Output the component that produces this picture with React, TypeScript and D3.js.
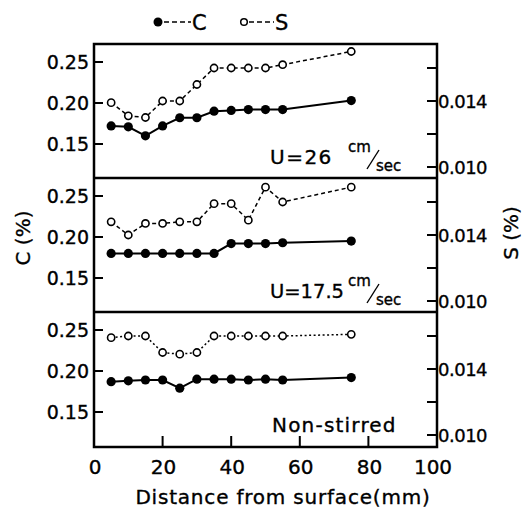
import React from "react";
import * as d3 from "d3";

const distances = [5, 10, 15, 20, 25, 30, 35, 40, 45, 50, 55, 75];
const c26 = [0.172, 0.171, 0.160, 0.172, 0.182, 0.182, 0.190, 0.191, 0.192, 0.192, 0.192, 0.203];
const s26 = [0.0139, 0.0131, 0.0130, 0.0140, 0.0140, 0.0150, 0.0160, 0.0160, 0.0160, 0.0160, 0.0162, 0.0170];
const c175 = [0.180, 0.180, 0.180, 0.180, 0.180, 0.180, 0.180, 0.192, 0.192, 0.192, 0.193, 0.195];
const s175 = [0.0148, 0.0140, 0.0147, 0.0147, 0.0148, 0.0148, 0.0159, 0.0159, 0.0149, 0.0169, 0.0160, 0.0169];
const cNon = [0.187, 0.188, 0.189, 0.189, 0.179, 0.190, 0.190, 0.190, 0.189, 0.190, 0.189, 0.192];
const sNon = [0.0159, 0.0160, 0.0160, 0.0150, 0.0149, 0.0150, 0.0160, 0.0160, 0.0160, 0.0160, 0.0160, 0.0161];

const leftTicks = [0.15, 0.2, 0.25];
const leftTickLabels = ["0.15", "0.20", "0.25"];
const rightTicks = [0.010, 0.012, 0.014, 0.016];
const rightTickLabels: Record<string, string> = { "0.01": "0.010", "0.014": "0.014" };
const xTicks = [0, 20, 40, 60, 80, 100];

type Panel = { c: number[]; s: number[]; label: string[]; dash: string };
const panels: Panel[] = [
  { c: c26, s: s26, label: ["U=26", "cm", "sec"], dash: "4,3" },
  { c: c175, s: s175, label: ["U=17.5", "cm", "sec"], dash: "4,3" },
  { c: cNon, s: sNon, label: ["Non-stirred"], dash: "2,2.5" },
];

const FONT = "DejaVu Sans";
const L = 94, R = 437;
const tops = [44, 178, 312];
const PH = 135;
const TS = { stroke: "#000", strokeWidth: 0.35 };

export default function App() {
  const x = d3.scaleLinear().domain([0, 100]).range([L, R]);
  const bottom = tops[2] + PH;
  return (
    <svg width={528} height={514} style={{ position: "absolute", left: 0, top: 0, background: "#fff" }} fontFamily={FONT}>
      {/* legend */}
      <g>
        <circle cx={158} cy={22} r={4.5} fill="#000" />
        <line x1={164} x2={191} y1={22} y2={22} stroke="#000" strokeWidth={1.6} strokeDasharray="5,3" />
        <text x={192} y={30} fontSize={21} {...TS}>C</text>
        <circle cx={244} cy={22} r={3.3} fill="#fff" stroke="#000" strokeWidth={1.5} />
        <line x1={249} x2={274} y1={22} y2={22} stroke="#000" strokeWidth={1.6} strokeDasharray="5,3" />
        <text x={275} y={30} fontSize={21} {...TS}>S</text>
      </g>
      {panels.map((p, i) => {
        const top = tops[i];
        const yl = d3.scaleLinear().domain([0.15, 0.25]).range([top + 100, top + 18]);
        const yr = d3.scaleLinear().domain([0.010, 0.014]).range([top + 123, top + 57]);
        const lineC = d3.line<number>().x((_, j) => x(distances[j])).y((v) => yl(v));
        const lineS = d3.line<number>().x((_, j) => x(distances[j])).y((v) => yr(v));
        return (
          <g key={i}>
            {leftTicks.map((t, k) => (
              <g key={k}>
                <line x1={L} x2={L + 9} y1={yl(t)} y2={yl(t)} stroke="#000" strokeWidth={2} />
                <text x={L - 5} y={yl(t) + 7} fontSize={19} textAnchor="end" {...TS}>{leftTickLabels[k]}</text>
              </g>
            ))}
            {rightTicks.map((t, k) => (
              <g key={k}>
                <line x1={R - 10} x2={R} y1={yr(t)} y2={yr(t)} stroke="#000" strokeWidth={2} />
                {rightTickLabels[String(t)] && (
                  <text x={R + 1} y={yr(t) + 7} fontSize={18} letterSpacing={-0.5} {...TS}>{rightTickLabels[String(t)]}</text>
                )}
              </g>
            ))}
            <path d={lineS(p.s) || ""} fill="none" stroke="#000" strokeWidth={1.5} strokeDasharray={p.dash} />
            <path d={lineC(p.c) || ""} fill="none" stroke="#000" strokeWidth={2} />
            {p.c.map((v, j) => (
              <circle key={"c" + j} cx={x(distances[j])} cy={yl(v)} r={4.6} fill="#000" />
            ))}
            {p.s.map((v, j) => (
              <circle key={"s" + j} cx={x(distances[j])} cy={yr(v)} r={3.6} fill="#fff" stroke="#000" strokeWidth={1.6} />
            ))}
            {p.label.length === 3 ? (
              <g>
                <text x={270} y={top + 120} fontSize={i === 0 ? 20 : 19.5} letterSpacing={i === 0 ? 1.5 : 0} {...TS}>{p.label[0]}</text>
                <text x={348} y={top + 108} fontSize={15} {...TS}>{p.label[1]}</text>
                <line x1={367} x2={379} y1={top + 125} y2={top + 106} stroke="#000" strokeWidth={1.4} />
                <text x={376} y={top + 127} fontSize={15} {...TS}>{p.label[2]}</text>
              </g>
            ) : (
              <text x={272} y={top + 120} fontSize={20} letterSpacing={1.2} {...TS}>{p.label[0]}</text>
            )}
          </g>
        );
      })}
      {/* panel frames */}
      <rect x={L} y={tops[0]} width={R - L} height={bottom - tops[0]} fill="none" stroke="#000" strokeWidth={2.5} />
      <line x1={L} x2={R} y1={tops[1]} y2={tops[1]} stroke="#000" strokeWidth={2.5} />
      <line x1={L} x2={R} y1={tops[2]} y2={tops[2]} stroke="#000" strokeWidth={2.5} />
      {xTicks.map((t, k) => (
        <g key={k}>
          {t > 0 && t < 100 && (
            <line x1={x(t)} x2={x(t)} y1={bottom} y2={bottom - 11} stroke="#000" strokeWidth={2} />
          )}
          <text x={x(t) + (t === 100 ? -4 : 1)} y={bottom + 27} fontSize={20} textAnchor="middle" {...TS}>{t}</text>
        </g>
      ))}
      <text x={283} y={504} fontSize={20} textAnchor="middle" letterSpacing={0.8} {...TS}>Distance from surface(mm)</text>
      <text transform="translate(30,238) rotate(-90)" fontSize={20} textAnchor="middle" {...TS}>C (%)</text>
      <text transform="translate(518,233) rotate(-90)" fontSize={20} textAnchor="middle" {...TS}>S (%)</text>
    </svg>
  );
}
